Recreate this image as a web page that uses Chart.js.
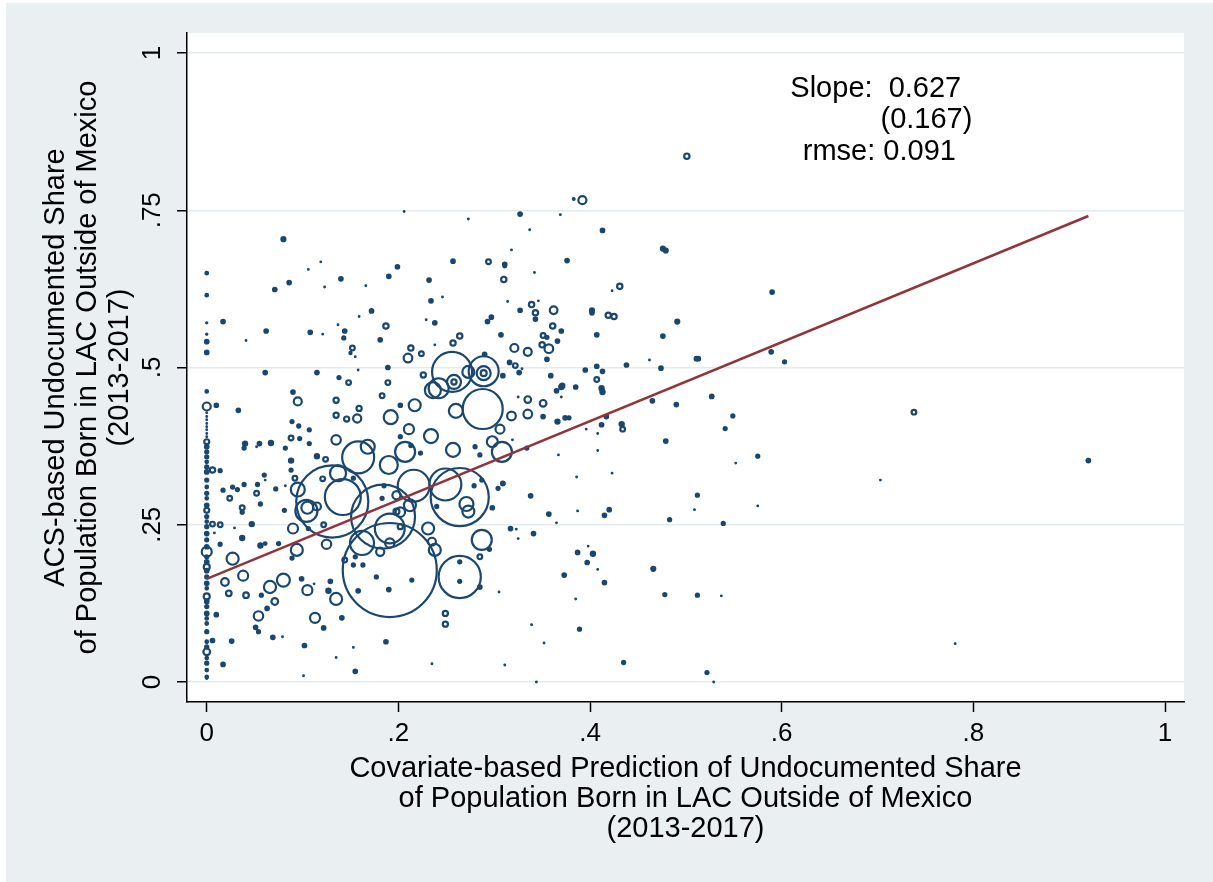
<!DOCTYPE html>
<html>
<head>
<meta charset="utf-8">
<title>LAC undocumented share</title>
<script src="https://cdn.jsdelivr.net/npm/chart.js@4.4.1/dist/chart.umd.min.js"></script>
<style>
  html, body { margin:0; padding:0; background:#fff; }
  #wrap { width:1213px; height:882px; }
</style>
</head>
<body>
<div id="wrap"><canvas id="myChart" width="1213" height="882"></canvas></div>
<script>
//DATA. Counties with a covariate prediction of exactly zero.
const zeroPredShare = [
  .650,.615,.571,.553,.541,.524,.462,.438,.428,.422,
  .417,.411,.406,.401,.395,.390,.382,.374,.366,.358,
  .350,.342,.334,.321,.310,.300,.292,.281,.273,.263,
  .255,.247,.236,.226,.215,.207,.199,.191,.183,.177,
  .167,.157,.149,.136,.128,.120,.109,.101,.093,.080,
  .064,.056,.048,.038,.030,.019,.008,.006
];
const zeroPredPop = [
  20,20,9,9,30,30,20,144,6,6,
  6,6,6,6,6,6,56,30,25,25,
  20,25,30,25,20,25,20,30,56,25,
  20,25,30,25,30,225,25,30,81,30,
  25,30,20,81,30,25,30,20,20,25,
  20,25,100,20,25,20,20,9
];

//DATA. All the other counties: predicted share, ACS share, population weight.
const predShare = [
  .392,.383,.206,.327,.369,.273,.413,.337,.080,.318,
  .376,.257,.294,.311,.311,.199,.119,.106,.342,.086,
  .140,.190,.232,.310,.071,.123,.166,.431,.423,.234,
  .246,.314,.339,.346,.327,.362,.343,.343,.402,.402,
  .419,.425,.172,.159,.017,.229,.238,.293,.297,.187,
  .361,.370,.137,.062,.108,.144,.143,.121,.041,.307,
  .407,.351,.355,.366,.181,.264,.257,.238,.350,.357,
  .321,.335,.213,.210,.224,.152,.155,.150,.158,.355,
  .290,.189,.438,.061,.115,.226,.316,.322,.326,.359,
  .395,.407,.413,.407,.412,.413,.385,.370,.309,.465,
  .476,.474,.462,.491,.476,.479,.501,.590,.511,.513,
  .589,.603,.490,.527,.549,.541,.738,.433,.434,.479,
  .575,.552,.920,.703,.512,.509,.483,.539,.575,.466,
  .478,.512,.537,.781,.435,.522,.529,.335,.351,.335,
  .318,.351,.374,.378,.366,.417,.412,.396,.408,.319,
  .367,.408,.309,.423,.386,.338,.357,.365,.387,.420,
  .415,.317,.325,.341,.387,.398,.403,.397,.408,.373,
  .415,.385,.389,.339,.352,.311,.344,.329,.365,.371,
  .370,.325,.010,.006,.014,.006,.014,.008,.014,.017,
  .024,.027,.032,.039,.033,.040,.039,.055,.067,.052,
  .060,.061,.053,.052,.056,.037,.037,.047,.029,.037,
  .056,.061,.075,.027,.019,.038,.023,.041,.057,.066,
  .080,.071,.063,.054,.051,.054,.069,.079,.026,.006,
  .010,.017,.101,.081,.072,.082,.082,.088,.097,.107,
  .096,.107,.090,.095,.089,.088,.088,.092,.095,.090,
  .094,.089,.099,.105,.112,.113,.122,.102,.135,.155,
  .153,.187,.235,.305,.141,.129,.127,.135,.144,.155,
  .249,.249,.131,.142,.191,.184,.264,.264,.249,.216,
  .191,.158,.168,.137,.104,.105,.115,.162,.287,.234,
  .211,.207,.190,.192,.217,.257,.260,.288,.308,.298,
  .306,.271,.273,.231,.238,.235,.212,.202,.198,.181,
  .191,.256,.258,.258,.242,.236,.289,.289,.289,.273,
  .287,.279,.304,.309,.298,.285,.280,.334,.153,.121,
  .122,.125,.106,.115,.124,.135,.146,.135,.157,.159,
  .135,.148,.138,.183,.189,.202,.213,.223,.202,.153,
  .163,.158,.190,.177,.214,.240,.264,.264,.285,.295,
  .285,.323,.185,.183,.202,.198
];
const acsShare = [
  .766,.768,.748,.744,.743,.736,.718,.719,.704,.687,
  .670,.669,.668,.664,.661,.660,.668,.656,.651,.635,
  .641,.645,.639,.640,.624,.628,.630,.629,.622,.606,
  .612,.605,.600,.606,.591,.591,.587,.577,.591,.587,
  .583,.581,.590,.581,.573,.576,.571,.573,.580,.566,
  .566,.558,.568,.558,.556,.558,.547,.553,.543,.552,
  .552,.551,.548,.542,.544,.550,.539,.536,.536,.530,
  .531,.525,.531,.515,.522,.531,.517,.523,.496,.513,
  .521,.500,.504,.492,.492,.488,.508,.503,.492,.487,
  .496,.502,.494,.481,.467,.461,.469,.469,.487,.447,
  .550,.499,.512,.573,.689,.686,.836,.620,.514,.514,
  .525,.509,.441,.454,.423,.403,.429,.410,.402,.383,
  .359,.348,.352,.321,.297,.274,.258,.252,.280,.180,
  .139,.138,.137,.061,.031,.015,.000,.449,.443,.426,
  .423,.422,.420,.420,.414,.422,.409,.402,.395,.385,
  .361,.368,.316,.332,.326,.296,.267,.253,.272,.274,
  .265,.244,.228,.236,.206,.216,.204,.190,.179,.170,
  .158,.132,.084,.091,.062,.027,.000,.498,.463,.471,
  .453,.453,.440,.337,.336,.251,.250,.237,.219,.305,
  .292,.310,.306,.314,.432,.379,.372,.379,.380,.374,
  .329,.321,.314,.300,.283,.277,.270,.251,.245,.229,
  .217,.220,.220,.196,.159,.169,.141,.138,.138,.151,
  .162,.128,.117,.105,.087,.080,.071,.072,.065,.066,
  .107,.028,.010,.273,.307,.312,.372,.388,.387,.379,
  .407,.401,.461,.446,.414,.352,.337,.324,.306,.244,
  .210,.197,.164,.146,.156,.102,.086,.058,.039,.017,
  .055,.064,.029,.143,.102,.160,.145,.132,.194,.199,
  .109,.092,.287,.294,.178,.263,.167,.294,.314,.312,
  .244,.357,.374,.332,.272,.277,.279,.221,.226,.391,
  .402,.366,.345,.421,.440,.369,.431,.434,.366,.382,
  .402,.283,.271,.244,.210,.223,.281,.270,.297,.207,
  .221,.493,.477,.477,.467,.464,.494,.491,.491,.493,
  .321,.312,.308,.315,.277,.361,.374,.372,.324,.323,
  .250,.219,.244,.359,.354,.385,.418,.424,.419,.435,
  .448,.476,.484,.455,.476,.440,.376,.364,.390,.186,
  .186,.145,.147,.167,.162,.279,.191,.160,.151,.211,
  .199,.243,.312,.292,.247,.271
];
const popWeight = [
  144,13,6,30,6,6,30,6,36,6,
  30,30,50,30,20,30,6,6,6,30,
  30,30,30,64,30,6,6,64,6,30,
  6,6,64,6,30,130,64,30,36,30,
  64,64,30,6,30,6,30,30,30,64,
  64,30,6,30,30,30,25,6,6,30,
  30,50,25,30,30,64,64,6,64,170,
  144,144,64,170,50,50,6,16,6,30,
  30,30,30,30,30,60,30,50,30,30,
  30,30,30,50,40,40,30,40,30,30,
  30,30,6,36,36,36,64,30,30,30,
  30,25,30,30,25,25,50,40,50,30,
  25,6,30,6,25,6,25,25,6,36,
  25,25,6,6,25,25,6,100,100,170,
  170,30,30,25,40,30,30,6,6,6,
  6,6,30,6,6,30,30,6,6,30,
  30,30,6,30,30,6,40,30,6,30,
  30,6,25,6,6,6,6,6,30,40,
  6,6,30,64,25,50,50,6,25,25,
  50,25,25,25,30,40,25,30,40,6,
  25,6,25,50,25,50,25,40,6,40,
  40,20,25,330,130,225,70,70,25,330,
  380,100,30,200,30,25,30,6,30,30,
  30,30,6,25,25,6,25,50,25,25,
  25,25,30,144,25,40,25,50,440,225,
  324,25,30,225,6,225,30,30,6,30,
  6,30,6,6,30,30,40,324,50,25,
  60,60,11700,2900,19900,9200,4000,7600,2300,2300,
  2000,2300,440,580,1100,324,144,1300,900,440,
  225,900,730,440,324,440,440,3600,900,270,
  180,440,324,324,324,144,324,200,150,150,
  200,3600,440,60,900,576,2025,440,80,324,
  25,25,25,25,30,25,25,25,25,50,
  50,200,25,40,50,200,60,60,150,60,
  60,50,25,50,50,30,25,25,25,25,
  25,30,30,25,25,25,25,25,30,25,
  50,6,25,25,60,80
];

//REGRESSION RESULTS
const slope = 0.627;
const slopeSE = 0.167;
const rmse = 0.091;
const intercept = 0.164;

//TICKS AND TITLES
const xTicks = [0, 0.2, 0.4, 0.6, 0.8, 1];
const xTickLabels = ['0', '.2', '.4', '.6', '.8', '1'];
const yTicks = [0, 0.25, 0.5, 0.75, 1];
const yTickLabels = ['0', '.25', '.5', '.75', '1'];
const xTitle = ['Covariate-based Prediction of Undocumented Share', 'of Population Born in LAC Outside of Mexico', '(2013-2017)'];
const yTitle = ['ACS-based Undocumented Share', 'of Population Born in LAC Outside of Mexico', '(2013-2017)'];

const navy = '#1a476f';
const maroon = '#90353b';
const paper = '#eaeff2';
const fontFam = "'Liberation Sans', Arial, Helvetica, sans-serif";
Chart.defaults.font.family = fontFam;

// bubbles: radius grows with the square root of the weight
const bubbles = [];
zeroPredShare.forEach((y, i) => bubbles.push({x: 0, y: y, r: Math.sqrt(zeroPredPop[i]) / 3}));
predShare.forEach((x, i) => bubbles.push({x: x, y: acsShare[i], r: Math.sqrt(popWeight[i]) / 3}));

const xMax = Math.max(...predShare);
const fitLine = [{x: 0, y: intercept}, {x: xMax, y: intercept + slope * xMax}];

//Background, white plot region.
const backdrop = {
  id: 'backdrop',
  beforeDraw(chart) {
    const c = chart.ctx, a = chart.chartArea;
    c.save();
    c.fillStyle = '#fff';
    c.fillRect(0, 0, chart.width, chart.height);
    c.fillStyle = paper;
    c.fillRect(6, 3, chart.width - 6, chart.height - 3);
    c.fillStyle = '#fff';
    c.fillRect(a.left, a.top, a.right - a.left, a.bottom - a.top);
    c.restore();
  }
};

//Rotated y labels and the slope note.
const extraText = {
  id: 'extraText',
  afterDraw(chart) {
    const c = chart.ctx, xs = chart.scales.x, ys = chart.scales.y;
    c.save();
    c.fillStyle = '#000';
    c.font = '26px ' + fontFam;
    c.textAlign = 'center';
    c.textBaseline = 'middle';
    yTicks.forEach((v, i) => {
      c.save();
      c.translate(ys.right - 34, ys.getPixelForValue(v));
      c.rotate(-Math.PI / 2);
      c.fillText(yTickLabels[i], 0, 0);
      c.restore();
    });
    c.font = '29px ' + fontFam;
    c.textBaseline = 'alphabetic';
    c.textAlign = 'left';
    c.fillText('Slope:  ' + slope.toFixed(3), xs.getPixelForValue(0.609), ys.getPixelForValue(0.930));
    c.textAlign = 'right';
    c.fillText('(' + slopeSE.toFixed(3) + ')', xs.getPixelForValue(0.799), ys.getPixelForValue(0.881));
    c.textAlign = 'left';
    c.fillText('rmse: ' + rmse.toFixed(3), xs.getPixelForValue(0.622), ys.getPixelForValue(0.830));
    c.restore();
  }
};

// no extra label padding, the plot box is fixed by layout.padding
function noPad(s) {
  s.paddingLeft = 0; s.paddingRight = 0; s.paddingTop = 0; s.paddingBottom = 0;
}

const ctx = document.getElementById('myChart').getContext('2d');
const myChart = new Chart(ctx, {
  type: 'bubble',
  data: {
    datasets: [{
      type: 'line',
      data: fitLine,
      borderColor: maroon,
      borderWidth: 2.5,
      pointRadius: 0,
      fill: false,
      order: 0
    }, {
      data: bubbles,
      borderColor: navy,
      // small hollow circles close up into dots
      backgroundColor: (c) => c.raw.r < 2.2 ? navy : 'rgba(0,0,0,0)',
      borderWidth: (c) => Math.min(2.2, 0.6 + 0.8 * c.raw.r),
      order: 1
    }]
  },
  plugins: [backdrop, extraText],
  options: {
    responsive: false,
    animation: false,
    events: [],
    layout: { autoPadding: false, padding: { left: 0, top: 33, right: 29, bottom: 0 } },
    plugins: { legend: { display: false }, tooltip: { enabled: false } },
    //X AND Y SCALE
    scales: {
      x: {
        type: 'linear',
        min: -0.0206,
        max: 1.0198,
        afterBuildTicks: (s) => { s.ticks = xTicks.map(v => ({value: v})); },
        afterFit: (s) => { s.height = 180; noPad(s); },
        grid: { drawOnChartArea: false, drawTicks: true, tickLength: 10, tickColor: '#000', tickWidth: 1.5 },
        border: { display: true, color: '#000', width: 1.5 },
        ticks: {
          callback: (v, i) => xTickLabels[i],
          color: '#000',
          font: { size: 26 },
          padding: 6,
          maxRotation: 0,
          autoSkip: false
        },
        title: {
          display: true,
          text: xTitle,
          color: '#000',
          font: { size: 29, lineHeight: 30 / 29 },
          padding: { top: 0, bottom: 38.5 }
        }
      },
      y: {
        type: 'linear',
        min: -0.0318,
        max: 1.0318,
        afterBuildTicks: (s) => { s.ticks = yTicks.map(v => ({value: v})); },
        afterFit: (s) => { s.width = 187; noPad(s); },
        grid: { color: '#e4ebef', lineWidth: 1.5, tickLength: 10, tickColor: '#000', tickWidth: 1.5 },
        border: { display: true, color: '#000', width: 1.5 },
        ticks: { display: false },
        title: {
          display: true,
          text: yTitle,
          color: '#000',
          font: { size: 29, lineHeight: 32 / 29 },
          padding: { top: 40, bottom: 0 }
        }
      }
    }
  }
});
</script>
</body>
</html>
